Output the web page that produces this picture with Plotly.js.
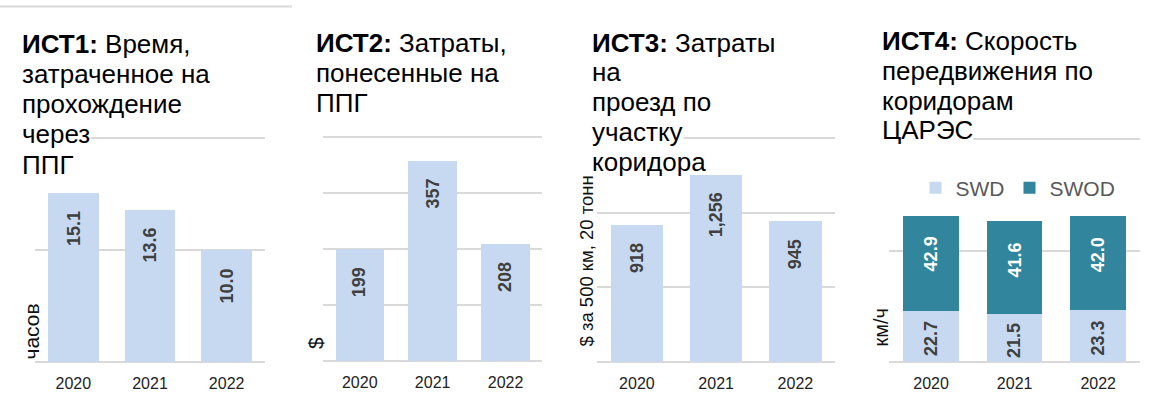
<!DOCTYPE html>
<html>
<head>
<meta charset="utf-8">
<script src="https://cdn.plot.ly/plotly-3.0.1.min.js"></script>
<style>html,body{margin:0;padding:0;background:#fff}#chart{width:1165px;height:404px}</style>
</head>
<body>
<div id="chart"></div>
<script>
// ---- data ----
const years = ['2020', '2021', '2022'];
const timeHours = [15.1, 13.6, 10.0];
const costPPG = [199, 357, 208];
const costTrip = [918, 1256, 945];
const speedSWD = [22.7, 21.5, 23.3];
const speedSWOD = [42.9, 41.6, 42.0];
const seriesNames = ['SWD', 'SWOD'];

const titles = [
  ['<b>ИСТ1:</b> Время,', 'затраченное на', 'прохождение', 'через', 'ППГ'],
  ['<b>ИСТ2:</b> Затраты,', 'понесенные на', 'ППГ'],
  ['<b>ИСТ3:</b> Затраты', 'на', 'проезд по', 'участку', 'коридора'],
  ['<b>ИСТ4:</b> Скорость', 'передвижения по', 'коридорам', 'ЦАРЭС']
];
const yTitles = ['часов', '$', '$ за 500 км, 20 тонн', 'км/ч'];

// ---- layout helpers ----
const W = 1165, H = 404;
const px = x => x / W;
const py = y => 1 - y / H;
const FONT = 'Liberation Sans, Arial, sans-serif';
const LIGHT = '#c6d9f0', TEAL = '#31859c', GRID = '#d9d9d9';

// pixel boxes: x = [left, right], y = [top gridline, zero line]
const panels = [
  {x: [35, 265], y: [138.3, 362.3], max: 20, dtick: 10},
  {x: [323.3, 542], y: [136.7, 361], max: 400, dtick: 100},
  {x: [597.3, 835], y: [138.3, 361.7], max: 1500, dtick: 500},
  {x: [889.3, 1140], y: [139.3, 361.7], max: 100, dtick: 50}
];
const EXTRA = 4; // px of headroom so the top gridline is not clipped
const titleX = [21, 315, 591, 881];
const titleBase = [[53, 83, 113, 143.5, 173.5], [52, 82, 112], [52, 81, 111, 141, 171], [50, 80, 110, 139.5]];
const titleBg = [[false, false, false, true, false], [false, false, false], [false, false, false, true, false], [false, false, false, true]];
const yTitlePos = [{x: 30.5, y: 362, s: 21}, {x: 315, y: 351, s: 21}, {x: 586, y: 349, s: 18.5}, {x: 880.5, y: 349, s: 20}];

const layout = {
  width: W, height: H,
  margin: {l: 0, r: 0, t: 0, b: 0},
  paper_bgcolor: '#fff', plot_bgcolor: 'rgba(0,0,0,0)',
  barmode: 'stack', bargap: 0.335,
  font: {family: FONT, color: '#000'},
  showlegend: true,
  legend: {
    orientation: 'h', x: px(915.5), y: py(188), xanchor: 'left', yanchor: 'middle',
    font: {family: FONT, size: 21, color: '#595959'}, traceorder: 'normal',
    itemclick: false, itemdoubleclick: false, bgcolor: 'rgba(0,0,0,0)'
  },
  annotations: [],
  shapes: [{type: 'line', xref: 'paper', yref: 'paper', x0: 0, x1: px(292), y0: py(6.5), y1: py(6.5), line: {color: GRID, width: 2}}]
};

panels.forEach((p, i) => {
  const n = i === 0 ? '' : String(i + 1);
  const len = p.y[1] - p.y[0];
  const rmax = p.max * (len + EXTRA) / len;
  layout['xaxis' + n] = {
    domain: [px(p.x[0]), px(p.x[1])], anchor: 'y' + n, type: 'category',
    range: [-0.5, 2.5],
    showgrid: false, showline: false, zeroline: false, ticks: '', ticklabelstandoff: 10,
    tickfont: {family: FONT, size: 16, color: '#222'}, fixedrange: true
  };
  layout['yaxis' + n] = {
    domain: [py(p.y[1]), py(p.y[0] - EXTRA)], anchor: 'x' + n, range: [0, rmax], dtick: p.dtick,
    showticklabels: false, ticks: '', showline: false,
    showgrid: true, gridcolor: GRID, gridwidth: 2,
    zeroline: true, zerolinecolor: GRID, zerolinewidth: 2, fixedrange: true
  };
  titles[i].forEach((line, k) => {
    layout.annotations.push({
      xref: 'paper', yref: 'paper', x: px(titleX[i]), y: py(titleBase[i][k] - 9),
      xanchor: 'left', yanchor: 'middle', showarrow: false, text: line,
      font: {family: FONT, size: 26, color: '#000'},
      bgcolor: titleBg[i][k] ? '#fff' : 'rgba(0,0,0,0)', borderpad: 0
    });
  });
  const t = yTitlePos[i];
  layout.annotations.push({
    xref: 'paper', yref: 'paper', x: px(t.x), y: py(t.y), xanchor: 'center', yanchor: 'bottom',
    textangle: -90, showarrow: false, text: yTitles[i], font: {family: FONT, size: t.s, color: '#111'}
  });
});

const fmt1 = v => v.toFixed(1);
const fmtInt = v => v.toLocaleString('en-US');

const single = [
  {vals: timeHours, f: fmt1},
  {vals: costPPG, f: fmtInt},
  {vals: costTrip, f: fmtInt}
];

const data = [];
single.forEach((s, i) => {
  const n = i === 0 ? '' : String(i + 1);
  data.push({
    type: 'bar', x: years, y: s.vals, xaxis: 'x' + n, yaxis: 'y' + n,
    marker: {color: LIGHT}, showlegend: false, hoverinfo: 'skip'
  });
  s.vals.forEach((v, k) => {
    layout.annotations.push({
      xref: 'x' + n, yref: 'y' + n, x: k, y: v, yanchor: 'top', xanchor: 'center',
      yshift: -16, textangle: -90, showarrow: false, text: '<b>' + s.f(v) + '</b>',
      font: {family: FONT, size: 18, color: '#404040'}
    });
  });
});

data.push({
  type: 'bar', name: seriesNames[0], x: years, y: speedSWD, xaxis: 'x4', yaxis: 'y4',
  marker: {color: LIGHT}, hoverinfo: 'skip'
});
data.push({
  type: 'bar', name: seriesNames[1], x: years, y: speedSWOD, xaxis: 'x4', yaxis: 'y4',
  marker: {color: TEAL}, hoverinfo: 'skip'
});
years.forEach((yr, k) => {
  layout.annotations.push({
    xref: 'x4', yref: 'y4', x: k, y: speedSWD[k] / 2, yanchor: 'middle', xanchor: 'center',
    yshift: -2.5, textangle: -90, showarrow: false, text: '<b>' + fmt1(speedSWD[k]) + '</b>',
    font: {family: FONT, size: 18, color: '#404040'}
  });
  layout.annotations.push({
    xref: 'x4', yref: 'y4', x: k, y: speedSWD[k] + speedSWOD[k], yanchor: 'top', xanchor: 'center',
    yshift: -19, textangle: -90, showarrow: false, text: '<b>' + fmt1(speedSWOD[k]) + '</b>',
    font: {family: FONT, size: 18, color: '#ffffff'}
  });
});

Plotly.newPlot('chart', data, layout, {displayModeBar: false, staticPlot: true});
</script>
</body>
</html>
